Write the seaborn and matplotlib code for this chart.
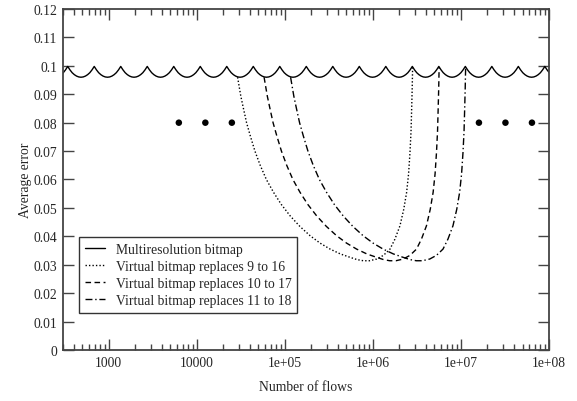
import numpy as np
import pandas as pd
import matplotlib
matplotlib.use("Agg")
import matplotlib.pyplot as plt
import seaborn as sns
from matplotlib.ticker import FixedLocator, FixedFormatter, LogLocator, NullFormatter

# Multiresolution bitmap: cusps every factor of 2 (about 342, 684, ... flows).
# One scallop (peak -> trough -> peak), repeated per octave.
peak_flows = [171 * 2 ** k for k in range(21)]
scallop = [0.0998, 0.0986, 0.0976, 0.0969, 0.0964, 0.0961, 0.0960,
           0.0961, 0.0964, 0.0969, 0.0976, 0.0986]

# Virtual bitmap curves, same error profile for each one
vb_err = [0.0960, 0.0893, 0.0848, 0.0800, 0.0754, 0.0700, 0.0650, 0.0600,
          0.0555, 0.0512, 0.0472, 0.0435, 0.0402, 0.0376, 0.0355, 0.0338,
          0.0326, 0.0318, 0.0314, 0.0314, 0.0320, 0.0333, 0.0355, 0.0390,
          0.0437, 0.0495, 0.0555, 0.0620, 0.0695, 0.0770, 0.0848, 0.0920, 0.0995]

vb9_flows = [29040, 31620, 33960, 36730, 40460, 45710, 52480, 61660, 74300,
             91200, 114800, 147900, 193600, 251200, 326600, 426600, 550800,
             660700, 778000, 912000, 1.104e6, 1.318e6, 1.563e6, 1.778e6,
             2.028e6, 2.239e6, 2.415e6, 2.541e6, 2.636e6, 2.710e6, 2.754e6,
             2.793e6, 2.825e6]
vb10_flows = [58080, 63240, 67920, 73460, 80920, 91420, 104960, 123320, 148600,
              182400, 229600, 295800, 387200, 502400, 653200, 853200, 1.1016e6,
              1.3214e6, 1.556e6, 1.824e6, 2.208e6, 2.636e6, 3.126e6, 3.556e6,
              4.056e6, 4.478e6, 4.83e6, 5.082e6, 5.272e6, 5.42e6, 5.508e6,
              5.586e6, 5.65e6]
vb11_flows = [116160, 126480, 135840, 146920, 161840, 182840, 209920, 246640,
              297200, 364800, 459200, 591600, 774400, 1.0048e6, 1.3064e6,
              1.7064e6, 2.2032e6, 2.6428e6, 3.112e6, 3.648e6, 4.416e6, 5.272e6,
              6.252e6, 7.112e6, 8.112e6, 8.956e6, 9.66e6, 1.0164e7, 1.0544e7,
              1.084e7, 1.1016e7, 1.1172e7, 1.13e7]

dot_flows = [6250, 12500, 25000, 1.6e7, 3.2e7, 6.4e7]
dot_err = [0.08, 0.08, 0.08, 0.08, 0.08, 0.08]

x_ticks = [1e3, 1e4, 1e5, 1e6, 1e7, 1e8]
x_labels = ["1000", "10000", "1e+05", "1e+06", "1e+07", "1e+08"]
y_ticks = [0, 0.01, 0.02, 0.03, 0.04, 0.05, 0.06, 0.07, 0.08, 0.09, 0.1, 0.11, 0.12]
y_labels = ["0", "0.01", "0.02", "0.03", "0.04", "0.05", "0.06", "0.07",
            "0.08", "0.09", "0.1", "0.11", "0.12"]

# build the scalloped line from the peaks and the one-octave profile
mr_x, mr_y = [], []
n = len(scallop)
for p in peak_flows[:-1]:
    for i, v in enumerate(scallop):
        mr_x.append(p * 2 ** (i / n))
        mr_y.append(v)
mr_x.append(peak_flows[-1])
mr_y.append(scallop[0])
mr = pd.DataFrame({"flows": mr_x, "err": mr_y})

sns.set_theme(style="ticks")
plt.rcParams["font.family"] = ["Liberation Serif", "DejaVu Serif"]
fs = 9.8

fig = plt.figure(figsize=(5.77, 4.02), dpi=100)
ax = fig.add_axes([0.1087, 0.127, 0.8428, 0.848])

sns.lineplot(data=mr, x="flows", y="err", ax=ax, color="black", lw=1.0,
             sort=False, label="Multiresolution bitmap")
sns.lineplot(x=vb9_flows, y=vb_err, ax=ax, color="black", lw=1.0, sort=False,
             linestyle=(0, (1, 1.5)), label="Virtual bitmap replaces 9 to 16")
sns.lineplot(x=vb10_flows, y=vb_err, ax=ax, color="black", lw=1.0, sort=False,
             linestyle=(0, (4, 2.5)), label="Virtual bitmap replaces 10 to 17")
sns.lineplot(x=vb11_flows, y=vb_err, ax=ax, color="black", lw=1.0, sort=False,
             linestyle=(0, (5, 2, 1, 2)), label="Virtual bitmap replaces 11 to 18")
sns.scatterplot(x=dot_flows, y=dot_err, ax=ax, color="black", s=22,
                edgecolor="none", zorder=5)

ax.set_xscale("log")
ax.set_xlim(300, 1e8)
ax.set_ylim(0, 0.12)

ax.xaxis.set_major_locator(FixedLocator(x_ticks))
ax.xaxis.set_major_formatter(FixedFormatter(x_labels))
ax.xaxis.set_minor_locator(LogLocator(base=10, subs=np.arange(2, 10), numticks=20))
ax.xaxis.set_minor_formatter(NullFormatter())
ax.yaxis.set_major_locator(FixedLocator(y_ticks))
ax.yaxis.set_major_formatter(FixedFormatter(y_labels))

ax.tick_params(which="major", direction="in", length=8, width=1,
               top=True, right=True, labelsize=fs, color="#444444", pad=4)
ax.tick_params(which="minor", direction="in", length=4, width=1,
               top=True, right=True, color="#444444")
for s in ax.spines.values():
    s.set_color("#444444")
    s.set_linewidth(1.3)

ax.set_xlabel("Number of flows", fontsize=fs, labelpad=8)
ax.set_ylabel("Average error", fontsize=fs, labelpad=1)

leg = ax.legend(loc="lower left", bbox_to_anchor=(0.033, 0.108), fontsize=fs,
                frameon=True, fancybox=False, borderaxespad=0, handlelength=1.5,
                labelspacing=0.3, borderpad=0.45, handletextpad=0.75)
leg.get_frame().set_edgecolor("black")
leg.get_frame().set_linewidth(1.0)

fig.savefig("out.png", dpi=100)
